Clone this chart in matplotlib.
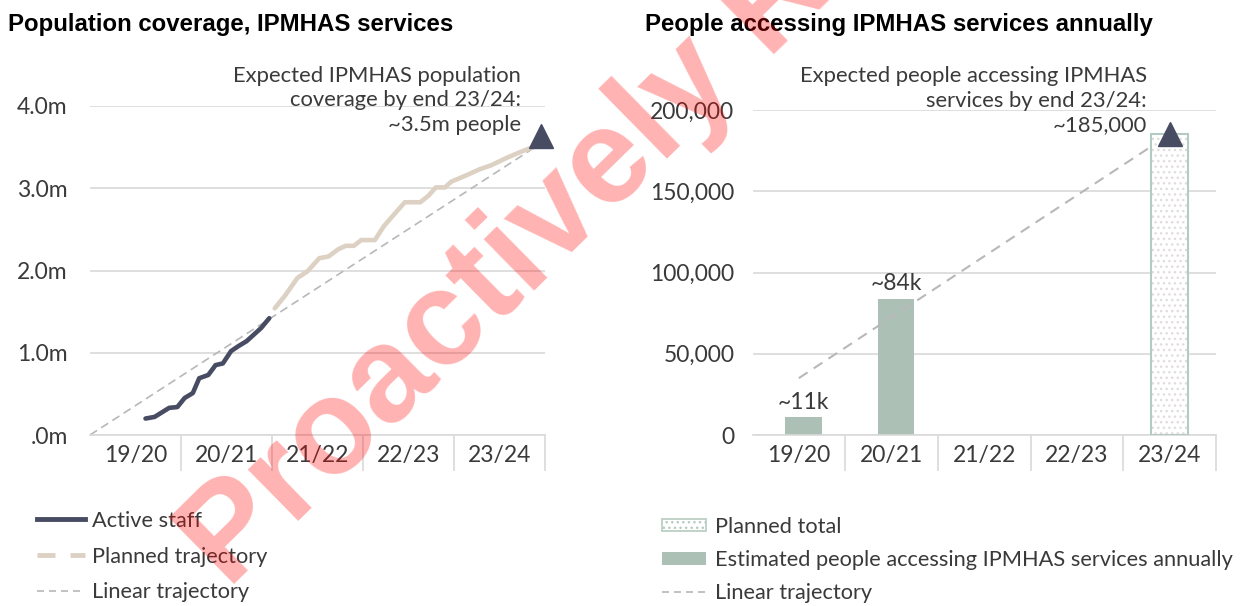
import matplotlib.pyplot as plt
from matplotlib.lines import Line2D
from matplotlib.patches import Patch
from matplotlib.ticker import FixedLocator, NullFormatter

# ---- data ----
years = ['19/20', '20/21', '21/22', '22/23', '23/24']

# left chart: population coverage in millions, x = years since start of 19/20
active_x = [0.61, 0.71, 0.87, 0.96, 1.04, 1.13, 1.20, 1.30, 1.38, 1.46, 1.55, 1.63, 1.72, 1.80, 1.88, 1.97]
active_y = [0.20, 0.22, 0.33, 0.34, 0.45, 0.51, 0.69, 0.73, 0.85, 0.87, 1.02, 1.08, 1.14, 1.22, 1.30, 1.42]
planned_x = [2.03, 2.14, 2.28, 2.39, 2.52, 2.62, 2.73, 2.81, 2.90, 2.98, 3.13, 3.23, 3.34, 3.46, 3.63,
             3.72, 3.80, 3.90, 3.97, 4.12, 4.28, 4.41, 4.58, 4.75, 4.92]
planned_y = [1.54, 1.69, 1.91, 1.99, 2.15, 2.17, 2.26, 2.30, 2.30, 2.37, 2.37, 2.54, 2.68, 2.83, 2.83,
             2.91, 3.01, 3.01, 3.08, 3.15, 3.23, 3.28, 3.37, 3.45, 3.52]
linear_x = [0, 4.92]
linear_y = [0, 3.52]
target_x = 4.96
target_y = 3.64
cov_ticks = [0, 1, 2, 3, 4]
cov_labels = ['.0m', '1.0m', '2.0m', '3.0m', '4.0m']

# right chart: people accessing services
est_idx = [0, 1]
est_vals = [11000, 84000]
est_labels = ['~11k', '~84k']
planned_idx = [4]
planned_total = [185000]
linear_people = [35000, 72500, 110000, 147500, 185000]
people_ticks = [0, 50000, 100000, 150000, 200000]
people_labels = ['0', '50,000', '100,000', '150,000', '200,000']

navy = '#474c63'
beige = '#dcd1c3'
sage = '#adc0b6'
grid_c = '#d9d9d9'
txt_c = '#3a3a3a'
FONT = ['Lato', 'DejaVu Sans']
TITLE_FONT = ['Liberation Sans', 'DejaVu Sans']
TICK_FS = 16.5
NOTE_FS = 15.8
LEG_FS = 15.7

plt.rcParams['font.family'] = FONT

fig = plt.figure(figsize=(12.51, 6.06), dpi=100)


def style_axes(ax, n):
    for s in ['top', 'left', 'right']:
        ax.spines[s].set_visible(False)
    ax.spines['bottom'].set_color(grid_c)
    ax.spines['bottom'].set_linewidth(1.2)
    ax.set_xlim(0, n)
    ax.xaxis.set_major_locator(FixedLocator(range(1, n + 1)))
    ax.xaxis.set_major_formatter(NullFormatter())
    ax.xaxis.set_minor_locator(FixedLocator([i + 0.5 for i in range(n)]))
    ax.set_xticklabels(years, minor=True)
    ax.tick_params(axis='x', which='major', length=26, color=grid_c, width=1.2)
    ax.tick_params(axis='x', which='minor', length=0, pad=7, labelsize=TICK_FS, labelcolor=txt_c)
    ax.tick_params(axis='y', length=0, labelsize=TICK_FS, labelcolor=txt_c)
    ax.grid(axis='y', color=grid_c, linewidth=1.2)
    ax.set_axisbelow(True)


# ---- left chart ----
ax1 = fig.add_axes([90 / 1251, 1 - 435 / 606, 455 / 1251, 329 / 606])
style_axes(ax1, len(years))
ax1.set_ylim(0, 4)
ax1.set_yticks(cov_ticks)
ax1.set_yticklabels(cov_labels)
ax1.tick_params(axis='y', pad=16)
ax1.plot(linear_x, linear_y, color='#b8b8b8', lw=1.2, dashes=(5, 3))
ax1.plot(planned_x, planned_y, color=beige, lw=3.3, solid_capstyle='round')
ax1.plot(active_x, active_y, color=navy, lw=3.3, solid_capstyle='round')
ax1.plot([target_x], [target_y], marker='^', ms=17, color=navy, clip_on=False, zorder=5)
ax1.text(0.947, 1.018, 'Expected IPMHAS population\ncoverage by end 23/24:\n~3.5m people',
         transform=ax1.transAxes, ha='right', va='center', multialignment='right',
         fontsize=NOTE_FS, color=txt_c, linespacing=1.28)

fig.text(8 / 1251, 1 - 24 / 606, 'Population coverage, IPMHAS services', fontsize=17.3,
         fontweight='bold', family=TITLE_FONT, va='center', ha='left')

h_left = [Line2D([], [], color=navy, lw=3.5),
          Line2D([], [], color=beige, lw=3.5, dashes=(3.7, 3.1)),
          Line2D([], [], color='#b8b8b8', lw=1.2, dashes=(4.2, 3))]
fig.legend(h_left, ['Active staff', 'Planned trajectory', 'Linear trajectory'],
           loc='upper left', bbox_to_anchor=(37 / 1251, 1 - 511 / 606), frameon=False,
           fontsize=LEG_FS, handlelength=2.2, handletextpad=0.32, labelspacing=0.72,
           borderpad=0, borderaxespad=0, labelcolor=txt_c)

# ---- right chart ----
ax2 = fig.add_axes([752.5 / 1251, 1 - 435 / 606, 463.5 / 1251, 325 / 606])
style_axes(ax2, len(years))
ax2.set_ylim(0, 200000)
ax2.set_yticks(people_ticks)
ax2.set_yticklabels(people_labels)
ax2.tick_params(axis='y', pad=13)
centers = [i + 0.5 for i in range(len(years))]
ax2.bar([i + 0.55 for i in est_idx], est_vals, width=0.39, color=sage, zorder=2)
ax2.plot(centers, linear_people, color='#b8b8b8', lw=1.5, dashes=(5, 3.5), zorder=3)
pc = [i + 0.5 for i in planned_idx]
ax2.bar(pc, planned_total, width=0.4, color='white', edgecolor='#e2dcdc', hatch='...',
        linewidth=0, zorder=4)
ax2.bar(pc, planned_total, width=0.4, fill=False, edgecolor='#b6cbc0', linewidth=1.5, zorder=5)
ax2.plot(pc, planned_total, marker='^', ms=17, color=navy, ls='none', zorder=6, clip_on=False)
for i, v, lab in zip(est_idx, est_vals, est_labels):
    ax2.annotate(lab, (i + 0.55, v), xytext=(0, 3), textcoords='offset points',
                 ha='center', va='bottom', fontsize=TICK_FS, color=txt_c)
ax2.text(0.851, 1.028, 'Expected people accessing IPMHAS\nservices by end 23/24:\n~185,000',
         transform=ax2.transAxes, ha='right', va='center', multialignment='right',
         fontsize=NOTE_FS, color=txt_c, linespacing=1.28)

fig.text(645 / 1251, 1 - 24 / 606, 'People accessing IPMHAS services annually', fontsize=17.3,
         fontweight='bold', family=TITLE_FONT, va='center', ha='left')

h_right = [Patch(facecolor='white', edgecolor='#b6cbc0', hatch='...', linewidth=1.2),
           Patch(facecolor=sage, edgecolor='none'),
           Line2D([], [], color='#b8b8b8', lw=1.2, dashes=(4.2, 3))]
fig.legend(h_right, ['Planned total', 'Estimated people accessing IPMHAS services annually',
                     'Linear trajectory'],
           loc='upper left', bbox_to_anchor=(662 / 1251, 1 - 517 / 606), frameon=False,
           fontsize=LEG_FS, handlelength=2.0, handleheight=0.5, handletextpad=0.45,
           labelspacing=0.6, borderpad=0, borderaxespad=0, labelcolor=txt_c)

# watermark
fig.text(228 / 1251, 1 - 590 / 606, 'Proactively Released', rotation=44.5, rotation_mode='anchor',
         ha='left', va='baseline', fontsize=97, fontweight='bold', family=TITLE_FONT,
         color='red', alpha=0.3, zorder=20)

fig.savefig('out.png', dpi=100)
